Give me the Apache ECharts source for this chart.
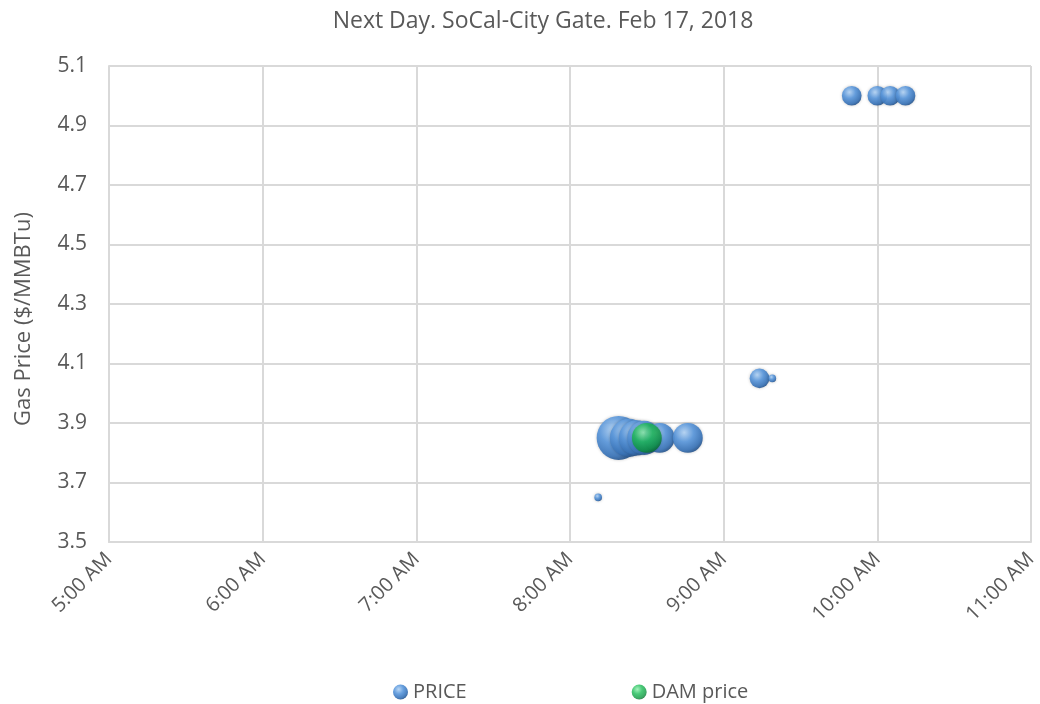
<!DOCTYPE html>
<html>
<head>
<meta charset="utf-8">
<script src="https://cdn.jsdelivr.net/npm/echarts@6/dist/echarts.min.js"></script>
<style>
  html, body { margin: 0; padding: 0; background: #fff; }
  #chart { width: 1040px; height: 704px; }
</style>
</head>
<body>
<div id="chart"></div>
<script>
// trades of the day: time, price, volume (bubble size)
var priceTimes = ['08:11', '08:19', '08:23', '08:26', '08:29', '08:35', '08:46', '09:14', '09:19', '09:50', '10:00', '10:05', '10:11'];
var priceValues = [3.65, 3.85, 3.85, 3.85, 3.85, 3.85, 3.85, 4.05, 4.05, 5.0, 5.0, 5.0, 5.0];
var priceVolumes = [300, 10000, 7500, 6500, 6000, 4600, 4600, 2000, 300, 2000, 2000, 2000, 2000];

var damTimes = ['08:30'];
var damValues = [3.85];
var damVolumes = [4600];

var xTicks = [5, 6, 7, 8, 9, 10, 11];
var yTicks = [3.5, 3.7, 3.9, 4.1, 4.3, 4.5, 4.7, 4.9, 5.1];

function toHours(t) {
  var p = t.split(':');
  return +p[0] + (+p[1]) / 60;
}
function build(times, values, vols) {
  return times.map(function (t, i) { return [toHours(t), values[i], vols[i]]; });
}
function bubble(v) { return Math.sqrt(v[2]) * 0.44; }

var blueBall = new echarts.graphic.RadialGradient(0.38, 0.32, 0.7, [
  { offset: 0, color: '#b4d4f5' },
  { offset: 0.45, color: '#5b98dc' },
  { offset: 0.85, color: '#3a74b8' },
  { offset: 1, color: '#2a5890' }
]);
var greenBall = new echarts.graphic.RadialGradient(0.38, 0.32, 0.7, [
  { offset: 0, color: '#8ef0ac' },
  { offset: 0.45, color: '#1cbc56' },
  { offset: 0.85, color: '#0b963e' },
  { offset: 1, color: '#06702c' }
]);

var txt = '#595959';
var myChart = echarts.init(document.getElementById('chart'));
var option = {
  animation: false,
  title: {
    text: 'Next Day. SoCal-City Gate. Feb 17, 2018',
    left: 538,
    textAlign: 'center',
    top: 5,
    textStyle: { fontFamily: 'Open Sans', fontSize: 23, fontWeight: 'normal', color: txt }
  },
  legend: {
    left: 388,
    top: 677,
    itemGap: 165,
    itemWidth: 15,
    itemHeight: 15,
    textStyle: { fontFamily: 'Open Sans', fontSize: 20, color: txt },
    data: [
      { name: 'PRICE', icon: 'circle' },
      { name: 'DAM price', icon: 'circle' }
    ]
  },
  grid: { left: 109, right: 9, top: 66, bottom: 162, containLabel: false, outerBoundsMode: 'none' },
  xAxis: {
    type: 'value',
    min: xTicks[0],
    max: xTicks[xTicks.length - 1],
    interval: 1,
    axisLine: { lineStyle: { color: '#d9d9d9', width: 2 } },
    axisTick: { show: false },
    splitLine: { lineStyle: { color: '#d9d9d9', width: 2 } },
    axisLabel: {
      rotate: 45,
      margin: 14,
      fontFamily: 'Open Sans',
      fontSize: 20,
      color: txt,
      formatter: function (v) { return v + ':00 AM'; }
    }
  },
  yAxis: {
    type: 'value',
    min: yTicks[0],
    max: yTicks[yTicks.length - 1],
    interval: 0.2,
    name: 'Gas Price ($/MMBTu)',
    nameLocation: 'middle',
    nameGap: 74,
    nameTextStyle: { fontFamily: 'Open Sans', fontSize: 22, color: txt, padding: [0, 30, 0, 0] },
    axisLine: { show: true, lineStyle: { color: '#d9d9d9', width: 2 } },
    axisTick: { show: false },
    splitLine: { lineStyle: { color: '#d9d9d9', width: 2 } },
    axisLabel: {
      margin: 22,
      fontFamily: 'Open Sans',
      fontSize: 21,
      color: txt,
      formatter: function (v) { return v.toFixed(1); }
    }
  },
  series: [
    {
      name: 'PRICE',
      type: 'scatter',
      data: build(priceTimes, priceValues, priceVolumes),
      symbolSize: bubble,
      itemStyle: { color: blueBall, opacity: 0.92, shadowBlur: 3, shadowColor: 'rgba(0,0,0,0.25)' }
    },
    {
      name: 'DAM price',
      type: 'scatter',
      data: build(damTimes, damValues, damVolumes),
      symbolSize: bubble,
      itemStyle: { color: greenBall, shadowBlur: 3, shadowColor: 'rgba(0,0,0,0.25)' }
    }
  ]
};
myChart.setOption(option);
window.onresize = myChart.resize;
</script>
</body>
</html>
